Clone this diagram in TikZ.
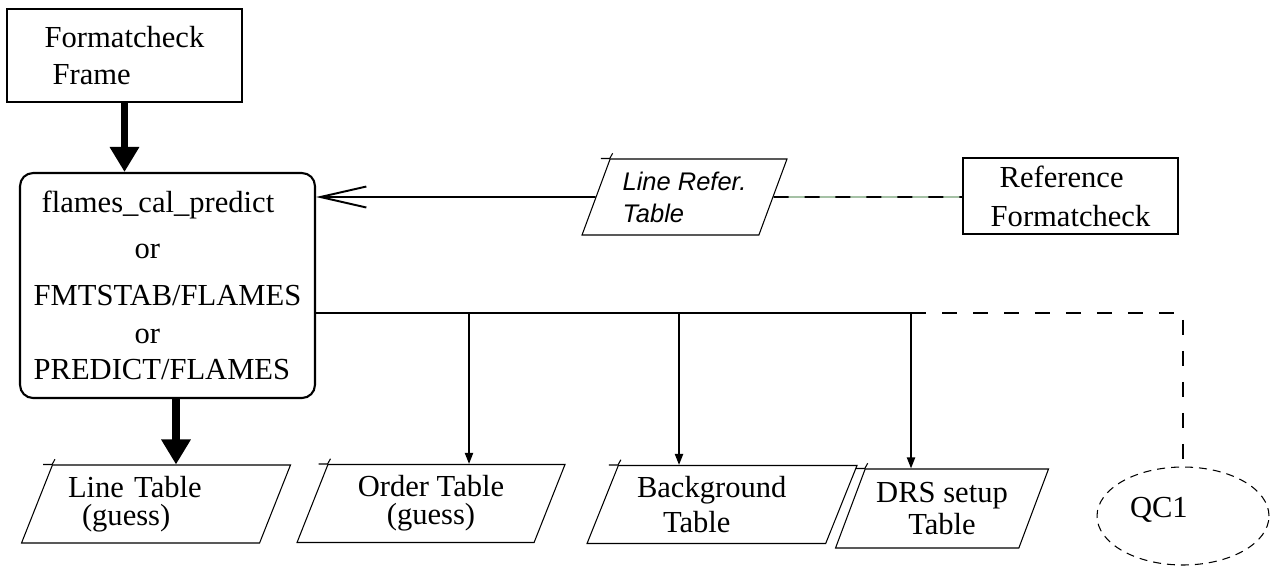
\documentclass[tikz,border=0pt]{standalone}
\usepackage{fontspec}
\setmainfont{Liberation Serif}
\setsansfont{Liberation Sans}
\usepackage{xcolor}
\usepackage{tikz}
\usetikzlibrary{shapes.geometric,arrows.meta,positioning}
\definecolor{refgreen}{RGB}{0,80,0}

\begin{document}
\begin{tikzpicture}[x=0.02cm, y=-0.02cm,
    txt/.style={font=\fontsize{17.4}{15.9}\selectfont},
    box/.style={draw, line width=0.8pt, txt, align=left, inner sep=0pt},
    tbl/.style={draw, line width=0.6pt, txt, trapezium, trapezium left angle=61, trapezium right angle=119, trapezium stretches body=true, minimum height=1.56cm, inner sep=0pt},
    conn/.style={line width=1.1pt},
    arrowdown/.style={conn, -{Triangle[length=0.22cm, width=0.16cm]}},
    thickarrow/.style={line width=4.5pt, -{Triangle[length=0.5cm, width=0.56cm]}},
    dashline/.style={conn, dash pattern=on 0.3cm off 0.32cm}]
    \useasboundingbox (0,0) rectangle (1270,566);

    \node[box, minimum width=4.7cm, minimum height=1.86cm] (ffr) at (124.5,55.5) {Formatcheck\\[0.18cm]\hspace*{0.16cm}Frame};
    \node[box, line width=1.2pt, rounded corners=0.26cm, minimum width=5.9cm, minimum height=4.5cm] (calc) at (167.5,285.5)
        {\hspace*{0.16cm}flames\_cal\_predict\\[0.36cm]
         \hspace*{2.02cm}or\\[0.38cm]
         FMTSTAB/FLAMES\\[0.2cm]
         \hspace*{2.02cm}or\\[0.18cm]
         PREDICT/FLAMES};
    \node[tbl, font=\sffamily\itshape\fontsize{14.5}{18.2}\selectfont, align=left, minimum width=4.1cm, minimum height=1.52cm] (lref) at (684.5,197) {Line Refer.\\Table};
    \node[box, minimum width=4.3cm, minimum height=1.52cm] (reffc) at (1070.5,196) {\hspace*{0.18cm}Reference\\[0.22cm]Formatcheck};

    \node[tbl, minimum width=5.38cm, text width=3.52cm, align=left] (ltab) at (156,504) {Line Table\\\hspace*{0.28cm}(guess)};
    \node[tbl, minimum width=5.36cm, align=center] (otab) at (431,503.5) {Order Table\\(guess)};
    \node[tbl, minimum width=5.4cm, text width=3.4cm, align=left] (btab) at (722,504.5) {Background\\[0.14cm]\hspace*{0.52cm}Table};
    \node[tbl, minimum width=4.26cm, minimum height=1.58cm, align=center] (dtab) at (942,508.5) {DRS setup\\[0.1cm]Table};
    \node[ellipse, draw, line width=0.6pt, dash pattern=on 0.16cm off 0.12cm, txt, minimum width=3.44cm, minimum height=1.96cm, text width=2.12cm, align=left, text depth=0.34cm] (qc1) at (1183,516) {QC1};

    \coordinate (jo) at (469,313);
    \coordinate (jb) at (679,313);
    \coordinate (jd) at (911,313);
    \coordinate (jq) at (qc1.north |- jd);

    \draw[thickarrow] (ffr.south) -- (ffr.south |- calc.north);
    \draw[thickarrow] ([xshift=0.17cm]calc.south) -- ([xshift=0.17cm]calc.south |- ltab.north);
    \draw[conn, -{Straight Barb[length=0.92cm, width=0.42cm]}] (lref) -- (lref -| calc.east);
    \draw[dashline, preaction={draw, solid, line width=0.5pt, refgreen}] (lref) -- (lref -| reffc.west);
    \draw[conn] (calc.east |- jd) -- (jd);
    \draw[dashline] (jd) -- (jq) -- (qc1.north);
    \draw[arrowdown] (jo) -- (jo |- otab.north);
    \draw[arrowdown] (jb) -- (jb |- btab.north);
    \draw[arrowdown] (jd) -- (jd |- dtab.north);

    \foreach \n in {lref,ltab,otab,btab,dtab}
        \draw[line width=0.6pt] ([xshift=-0.18cm]\n.top left corner) -- (\n.top left corner) -- ++(61:0.12cm);
\end{tikzpicture}
\end{document}
